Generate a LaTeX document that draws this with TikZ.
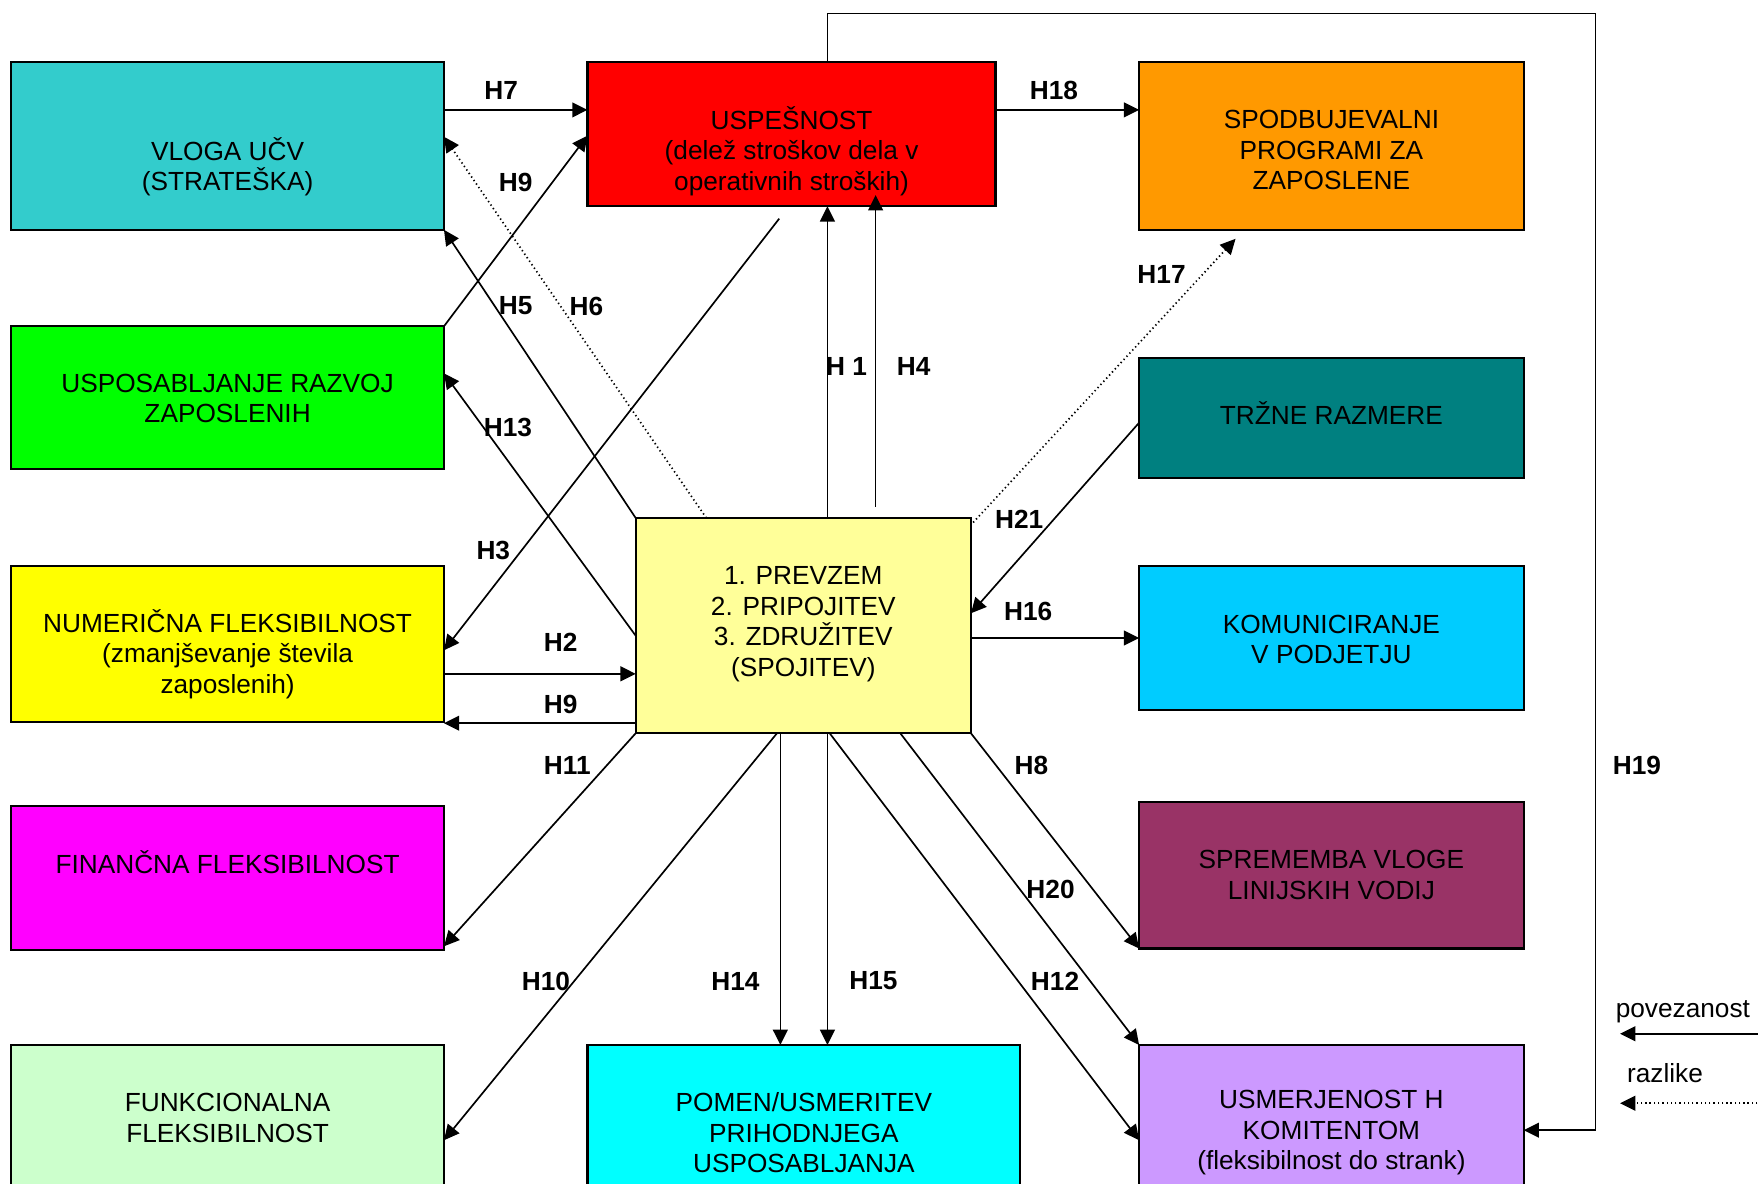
\documentclass[tikz,border=0pt]{standalone}
\usepackage{fontspec}
\setmainfont{Liberation Sans}
\usetikzlibrary{arrows.meta,calc}
\definecolor{cVloga}{HTML}{33CCCC}
\definecolor{cUsp}{HTML}{FF0000}
\definecolor{cSpod}{HTML}{FF9900}
\definecolor{cUspos}{HTML}{00FF00}
\definecolor{cTrz}{HTML}{008080}
\definecolor{cNum}{HTML}{FFFF00}
\definecolor{cPrev}{HTML}{FFFF99}
\definecolor{cKom}{HTML}{00CCFF}
\definecolor{cFin}{HTML}{FF00FF}
\definecolor{cSpr}{HTML}{993366}
\definecolor{cFunk}{HTML}{CCFFCC}
\definecolor{cPomen}{HTML}{00FFFF}
\definecolor{cUsm}{HTML}{CC99FF}
\newcommand\Bx[8]{%
  \node[cbox,fill=#6,minimum width={(#4-#2)*0.5pt},minimum height={(#5-#3)*0.5pt}] (#1) at ({(#2+#4)/2},{(#3+#5)/2}) {};
  \node[ctxt] (#1-t) at ({(#2+#4)/2},#7) {#8};}
\begin{document}
\begin{tikzpicture}[x=0.5pt,y=-0.5pt,
  cbox/.style={draw=black,line width=1pt,rectangle,inner sep=0pt,outer sep=0pt},
  ctxt/.style={font=\fontsize{11.7}{13.6}\selectfont,align=center,inner sep=0pt},
  clab/.style={font=\fontsize{11.7}{13.6}\selectfont\bfseries,inner sep=0pt},
  carrow/.style={line width=0.75pt,-{Triangle[length=6.8pt,width=6.6pt]}},
  cdotted/.style={carrow,dash pattern=on 0.6pt off 1.3pt}]
\clip (0,0) rectangle (1568,1056);
\fill[white] (0,0) rectangle (1568,1056);

\Bx{vloga}{10}{55}{396}{205}{cVloga}{148.5}{VLOGA UČV\\(STRATEŠKA)}
\Bx{usp}{524}{55}{888}{184}{cUsp}{134.5}{USPEŠNOST\\(delež stroškov dela v\\operativnih stroških)}
\Bx{spod}{1016}{55}{1359}{205}{cSpod}{134}{SPODBUJEVALNI\\PROGRAMI ZA\\ZAPOSLENE}
\Bx{uspos}{10}{291}{396}{418}{cUspos}{355.5}{USPOSABLJANJE RAZVOJ\\ZAPOSLENIH}
\Bx{trzne}{1016}{319}{1359}{426}{cTrz}{368}{TRŽNE RAZMERE}
\Bx{num}{10}{505}{396}{644}{cNum}{583.5}{NUMERIČNA FLEKSIBILNOST\\(zmanjševanje števila\\zaposlenih)}
\Bx{prev}{567}{462}{866}{654}{cPrev}{556.5}{1. PREVZEM\\2. PRIPOJITEV\\3. ZDRUŽITEV\\(SPOJITEV)}
\Bx{kom}{1016}{505}{1359}{633}{cKom}{570.5}{KOMUNICIRANJE\\V PODJETJU}
\Bx{fin}{10}{719}{396}{847}{cFin}{769}{FINANČNA FLEKSIBILNOST}
\Bx{spr}{1016}{715}{1359}{846}{cSpr}{780.5}{SPREMEMBA VLOGE\\LINIJSKIH VODIJ}
\Bx{funk}{10}{932}{396}{1090}{cFunk}{997}{FUNKCIONALNA\\FLEKSIBILNOST}
\Bx{pomen}{524}{932}{910}{1090}{cPomen}{1010.5}{POMEN/USMERITEV\\PRIHODNJEGA\\USPOSABLJANJA}
\Bx{usm}{1016}{932}{1359}{1090}{cUsm}{1010.5}{USMERJENOST H\\KOMITENTOM\\(fleksibilnost do strank)}

% free ends
\coordinate (h3s) at (695,195);
\coordinate (h4s) at (781,452);
\coordinate (h4e) at (781,174);
\coordinate (h17s) at (868,466);
\coordinate (h17e) at (1102,213);
\coordinate (h19a) at (738,12);
\coordinate (h19b) at (1423,12);
\coordinate (lg1s) at (1575,922);
\coordinate (lg1e) at (1445,922);
\coordinate (lg2s) at (1575,984);
\coordinate (lg2e) at (1445,984);

% connectors
\draw[carrow] (vloga.east |- 0,98) -- (usp.west |- 0,98);
\draw[carrow] (usp.east |- 0,98) -- (spod.west |- 0,98);
\draw[carrow] (uspos.north east) -- (usp.west |- 0,121);
\draw[cdotted] (630,0 |- prev.north) -- (vloga.east |- 0,122);
\draw[carrow] (prev.north west) -- (vloga.south east);
\draw[carrow] (h3s) -- (num.east |- 0,580);
\draw[carrow] (prev.west |- 0,567) -- (uspos.east |- 0,333);
\draw[carrow] (738,0 |- prev.north) -- (738,0 |- usp.south);
\draw[carrow] (h4s) -- (h4e);
\draw[cdotted] (h17s) -- (h17e);
\draw[carrow] (trzne.west |- 0,377) -- (prev.east |- 0,547);
\draw[carrow] (prev.east |- 0,569) -- (kom.west |- 0,569);
\draw[carrow] (num.east |- 0,601) -- (prev.west |- 0,601);
\draw[carrow] (prev.west |- 0,645) -- (num.east |- 0,645);
\draw[carrow] (prev.south west) -- (fin.east |- 0,844);
\draw[carrow] (693,0 |- prev.south) -- (funk.east |- 0,1017);
\draw[carrow] (696,0 |- prev.south) -- (696,0 |- pomen.north);
\draw[carrow] (738,0 |- prev.south) -- (738,0 |- pomen.north);
\draw[carrow] (740,0 |- prev.south) -- (usm.west |- 0,1017);
\draw[carrow] (803,0 |- prev.south) -- (usm.north west);
\draw[carrow] (prev.south east) -- (spr.south west);
\draw[carrow] (738,0 |- usp.north) -- (h19a) -- (h19b) |- (usm.east |- 0,1008);
\draw[carrow] (lg1s) -- (lg1e);
\draw[cdotted] (lg2s) -- (lg2e);

% labels
\node[clab] (lH7) at (447,81) {H7};
\node[clab] (lH18) at (940,81) {H18};
\node[clab] (lH9a) at (460,163) {H9};
\node[clab] (lH5) at (460,273) {H5};
\node[clab] (lH6) at (523,273) {H6};
\node[clab] (lH13) at (453,381) {H13};
\node[clab] (lH3) at (440,491) {H3};
\node[clab] (lH1) at (755,327) {H 1};
\node[clab] (lH4) at (815,327) {H4};
\node[clab] (lH17) at (1036,245) {H17};
\node[clab] (lH21) at (909,463) {H21};
\node[clab] (lH16) at (917,545) {H16};
\node[clab] (lH2) at (500,573) {H2};
\node[clab] (lH9b) at (500,628) {H9};
\node[clab] (lH11) at (506,683) {H11};
\node[clab] (lH8) at (920,683) {H8};
\node[clab] (lH19) at (1460,683) {H19};
\node[clab] (lH20) at (937,793) {H20};
\node[clab] (lH10) at (487,875) {H10};
\node[clab] (lH14) at (656,875) {H14};
\node[clab] (lH15) at (779,875) {H15};
\node[clab] (lH12) at (941,875) {H12};
\node[ctxt] (lgpov) at (1501,902) {povezanost};
\node[ctxt] (lgraz) at (1485,957) {razlike};
\end{tikzpicture}
\end{document}
